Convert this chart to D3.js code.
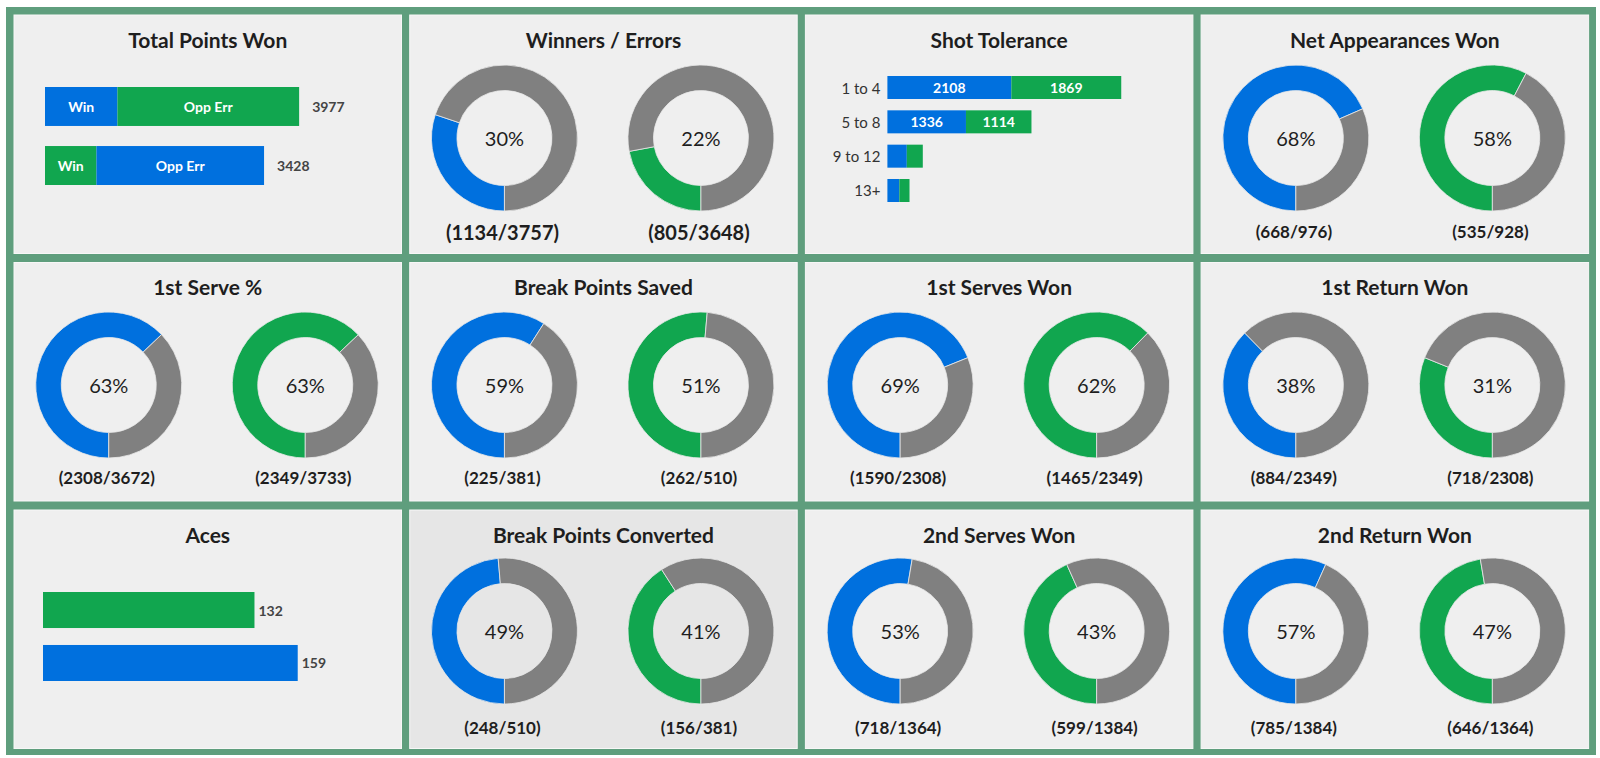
<!DOCTYPE html>
<html>
<head>
<meta charset="utf-8">
<script src="https://cdn.jsdelivr.net/npm/d3@7"></script>
<style>
  html, body { margin: 0; padding: 0; background: #ffffff; }
  svg { display: block; font-family: Lato, "Open Sans", sans-serif; }
</style>
</head>
<body>
<svg id="chart" width="1600" height="758"></svg>
<script>
// ---------------- DATA ----------------
const players = ["Blue", "Green"];

// Total Points Won (stacked: winners + opponent errors)
const totalPlayers = ["Blue", "Green"];
const totalWinners = [1134, 805];
const totalOppErr = [2843, 2623];
const totalLabels = ["3977", "3428"];
const totalSegNames = ["Win", "Opp Err"];

// Shot Tolerance (rally length buckets)
const shotCats = ["1 to 4", "5 to 8", "9 to 12", "13+"];
const shotBlue = [2108, 1336, 330, 203];
const shotGreen = [1869, 1114, 272, 173];
const shotShowLabels = [true, true, false, false];

// Aces
const acePlayers = ["Green", "Blue"];
const aceValues = [132, 159];

// Donut panels
const donutTitles = ["Winners / Errors", "Net Appearances Won", "1st Serve %", "Break Points Saved",
  "1st Serves Won", "1st Return Won", "Break Points Converted", "2nd Serves Won", "2nd Return Won"];
const donutWonBlue = [1134, 668, 2308, 225, 1590, 884, 248, 718, 785];
const donutTotalBlue = [3757, 976, 3672, 381, 2308, 2349, 510, 1364, 1384];
const donutWonGreen = [805, 535, 2349, 262, 1465, 718, 156, 599, 646];
const donutTotalGreen = [3648, 928, 3733, 510, 2349, 2308, 381, 1384, 1364];

// ---------------- STYLE / LAYOUT ----------------
const C = { blue: "#0070de", green: "#11a64f", gray: "#808080", border: "#5f9e7d",
  panel: "#efefef", panelDark: "#e6e6e6", text: "#1e1e1e", sub: "#444444" };

const svg = d3.select("#chart");
const PX0 = 14, PY0 = 15, PSTEPX = 395.7, PSTEPY = 247.5, PW = 387.5, PH = 238.5;

svg.append("rect").attr("x", 6).attr("y", 7).attr("width", 1590).attr("height", 748).attr("fill", C.border);

function panel(col, row, title, dark) {
  const g = svg.append("g").attr("transform", `translate(${PX0 + col * PSTEPX},${PY0 + row * PSTEPY})`);
  g.append("rect").attr("width", PW).attr("height", PH)
    .attr("fill", dark ? C.panelDark : C.panel).attr("stroke", "#f7f7f7").attr("stroke-width", 1);
  g.append("text").attr("x", PW / 2).attr("y", 24).attr("text-anchor", "middle")
    .attr("dominant-baseline", "central").attr("font-size", 21).attr("font-weight", 700)
    .attr("fill", C.text).text(title);
  return g;
}

// ---- Total Points Won ----
{
  const g = panel(0, 0, "Total Points Won");
  const x = d3.scaleLinear().domain([0, 5000]).range([31, 31 + 5000 * 0.0639]);
  const y = d3.scaleBand().domain(totalPlayers).range([72, 170]).paddingInner(0.34);
  totalPlayers.forEach((p, i) => {
    const winColor = p === "Blue" ? C.blue : C.green;
    const errColor = p === "Blue" ? C.green : C.blue;
    const segs = [[0, totalWinners[i], winColor, totalSegNames[0]],
      [totalWinners[i], totalWinners[i] + totalOppErr[i], errColor, totalSegNames[1]]];
    segs.forEach(s => {
      g.append("rect").attr("x", x(s[0])).attr("y", y(p)).attr("width", x(s[1]) - x(s[0]))
        .attr("height", y.bandwidth()).attr("fill", s[2]);
      g.append("text").attr("x", (x(s[0]) + x(s[1])) / 2).attr("y", y(p) + y.bandwidth() / 2)
        .attr("text-anchor", "middle").attr("dominant-baseline", "central")
        .attr("font-size", 14).attr("font-weight", 700).attr("fill", "#ffffff").text(s[3]);
    });
    g.append("text").attr("x", x(totalWinners[i] + totalOppErr[i]) + 13).attr("y", y(p) + y.bandwidth() / 2)
      .attr("dominant-baseline", "central").attr("font-size", 14).attr("font-weight", 700)
      .attr("fill", C.sub).text(totalLabels[i]);
  });
}

// ---- Shot Tolerance ----
{
  const g = panel(2, 0, "Shot Tolerance");
  const x = d3.scaleLinear().domain([0, 5000]).range([82, 82 + 5000 * 0.0588]);
  const y = d3.scaleBand().domain(shotCats).range([61, 187]).paddingInner(0.33);
  shotCats.forEach((c, i) => {
    const segs = [[0, shotBlue[i], C.blue], [shotBlue[i], shotBlue[i] + shotGreen[i], C.green]];
    segs.forEach(s => {
      g.append("rect").attr("x", x(s[0])).attr("y", y(c)).attr("width", x(s[1]) - x(s[0]))
        .attr("height", y.bandwidth()).attr("fill", s[2]);
      if (shotShowLabels[i]) {
        g.append("text").attr("x", (x(s[0]) + x(s[1])) / 2).attr("y", y(c) + y.bandwidth() / 2)
          .attr("text-anchor", "middle").attr("dominant-baseline", "central")
          .attr("font-size", 14).attr("font-weight", 700).attr("fill", "#ffffff").text(s[1] - s[0]);
      }
    });
    g.append("text").attr("x", 75).attr("y", y(c) + y.bandwidth() / 2)
      .attr("text-anchor", "end").attr("dominant-baseline", "central")
      .attr("font-size", 15).attr("fill", "#333333").text(c);
  });
}

// ---- Aces ----
{
  const g = panel(0, 2, "Aces");
  const x = d3.scaleLinear().domain([0, 200]).range([29, 29 + 200 * 1.602]);
  const y = d3.scaleBand().domain(acePlayers).range([82, 171]).paddingInner(0.32);
  acePlayers.forEach((p, i) => {
    g.append("rect").attr("x", x(0)).attr("y", y(p)).attr("width", x(aceValues[i]) - x(0))
      .attr("height", y.bandwidth()).attr("fill", p === "Blue" ? C.blue : C.green);
    g.append("text").attr("x", x(aceValues[i]) + 4).attr("y", y(p) + y.bandwidth() / 2)
      .attr("dominant-baseline", "central").attr("font-size", 14).attr("font-weight", 700)
      .attr("fill", C.sub).text(aceValues[i]);
  });
}

// ---- Donuts ----
const donutCells = [[1, 0], [3, 0], [0, 1], [1, 1], [2, 1], [3, 1], [1, 2], [2, 2], [3, 2]];
const rowDonutY = [123, 122.5, 121];
const rowLabelY = [216, 215, 217];
const arc = d3.arc().innerRadius(47.5).outerRadius(73);
const pie = d3.pie().sort(null).value(d => d).startAngle(Math.PI).endAngle(3 * Math.PI);

donutTitles.forEach((t, k) => {
  const [col, row] = donutCells[k];
  const g = panel(col, row, t, t === "Break Points Converted");
  const sets = [[donutWonBlue[k], donutTotalBlue[k], C.blue, -99], [donutWonGreen[k], donutTotalGreen[k], C.green, 97.5]];
  sets.forEach(([won, tot, color, dx]) => {
    const cx = PW / 2 + dx, cy = rowDonutY[row];
    const dg = g.append("g").attr("transform", `translate(${cx},${cy})`);
    dg.selectAll("path").data(pie([won, tot - won])).enter().append("path")
      .attr("d", arc).attr("fill", (d, i) => i === 0 ? color : C.gray)
      .attr("stroke", "#e8e8e8").attr("stroke-width", 0.8);
    dg.append("text").attr("text-anchor", "middle").attr("dominant-baseline", "central")
      .attr("font-size", 20).attr("fill", C.text).text(Math.round(won / tot * 100) + "%");
    g.append("text").attr("x", cx - 2).attr("y", rowLabelY[row] + (k === 0 ? 1 : 0)).attr("text-anchor", "middle")
      .attr("dominant-baseline", "central").attr("font-size", k === 0 ? 20 : 17).attr("font-weight", 700)
      .attr("fill", C.text).text(`(${won}/${tot})`);
  });
});
</script>
</body>
</html>
